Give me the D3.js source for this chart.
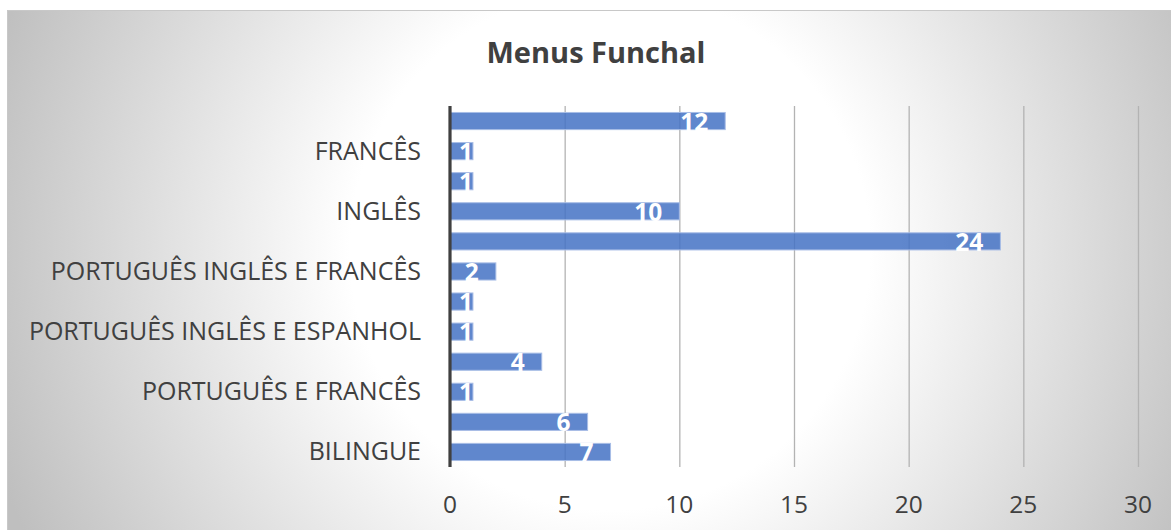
<!DOCTYPE html>
<html>
<head>
<meta charset="utf-8">
<script src="https://cdn.jsdelivr.net/npm/d3@7"></script>
<style>
  html, body { margin: 0; padding: 0; background: #ffffff; }
  svg { display: block; }
  text { font-family: "Open Sans", "Noto Sans", sans-serif; }
</style>
</head>
<body>
<svg id="chart" width="1171" height="530"></svg>
<script>
// Categories listed bottom-to-top (Excel order); only every other label is shown
const categories = [
  "BILINGUE",
  "PORTUGUÊS E INGLÊS",
  "PORTUGUÊS E FRANCÊS",
  "PORTUGUÊS E ESPANHOL",
  "PORTUGUÊS INGLÊS E ESPANHOL",
  "PORTUGUÊS INGLÊS E ALEMÃO",
  "PORTUGUÊS INGLÊS E FRANCÊS",
  "PORTUGUÊS",
  "INGLÊS",
  "ESPANHOL",
  "FRANCÊS",
  "MULTILINGUE"
];
const values = [7, 6, 1, 4, 1, 1, 2, 24, 10, 1, 1, 12];
const xTicks = [0, 5, 10, 15, 20, 25, 30];
const title = "Menus Funchal";

const W = 1171, H = 530;
const svg = d3.select("#chart");

// background radial gradient
const defs = svg.append("defs");
const grad = defs.append("radialGradient")
  .attr("id", "bg").attr("gradientUnits", "userSpaceOnUse")
  .attr("cx", 610).attr("cy", 250).attr("r", 650);
grad.append("stop").attr("offset", "0").attr("stop-color", "#ffffff");
grad.append("stop").attr("offset", "0.40").attr("stop-color", "#ffffff");
grad.append("stop").attr("offset", "1").attr("stop-color", "#bfbfbf");

svg.append("rect").attr("x", 7).attr("y", 10).attr("width", W - 7).attr("height", H - 10)
  .attr("fill", "url(#bg)");
svg.append("path").attr("d", `M7.5,${H} V10.5 H${W}`)
  .attr("fill", "none").attr("stroke", "#c8c8c8").attr("stroke-width", 1);

const x = d3.scaleLinear().domain([0, 30]).range([450, 1138]);
const order = d3.range(categories.length).reverse(); // top-to-bottom indices
const y = d3.scaleBand().domain(order).range([106, 467]).paddingInner(0.43).paddingOuter(0.215);

// gridlines
svg.append("g").selectAll("line").data(xTicks.filter(t => t > 0)).join("line")
  .attr("x1", d => x(d) + 0.5).attr("x2", d => x(d) + 0.5)
  .attr("y1", 106).attr("y2", 467)
  .attr("stroke", "#b3b3b3").attr("stroke-width", 1.3);

// bars
svg.append("g").selectAll("rect").data(order).join("rect")
  .attr("x", x(0)).attr("y", i => y(i))
  .attr("width", i => x(values[i]) - x(0))
  .attr("height", y.bandwidth())
  .attr("fill", "#4472c4").attr("fill-opacity", 0.85)
  .attr("stroke", "#a8bde6").attr("stroke-width", 1);

// vertical axis line
svg.append("line").attr("x1", 450).attr("x2", 450).attr("y1", 106).attr("y2", 467)
  .attr("stroke", "#404040").attr("stroke-width", 3.2);

// data labels
svg.append("g").selectAll("text").data(order).join("text")
  .attr("x", i => {
    const w = x(values[i]) - x(0);
    return w - 17 < 14 ? x(values[i]) : x(values[i]) - 17;
  })
  .attr("y", i => y(i) + y.bandwidth() / 2 + 9.5)
  .attr("text-anchor", "end")
  .attr("fill", "#ffffff").attr("font-weight", "bold").attr("font-size", 24.5)
  .text(i => values[i]);

// category labels (every other)
svg.append("g").selectAll("text").data(order.filter(i => i % 2 === 0)).join("text")
  .attr("x", 421).attr("y", i => y(i) + y.bandwidth() / 2 + 8.5)
  .attr("text-anchor", "end").attr("fill", "#404040").attr("font-size", 25)
  .text(i => categories[i]);

// x tick labels
svg.append("g").selectAll("text").data(xTicks).join("text")
  .attr("x", d => x(d)).attr("y", 513)
  .attr("text-anchor", "middle").attr("fill", "#404040").attr("font-size", 24.5)
  .text(d => d);

// title
svg.append("text").attr("x", 596).attr("y", 63)
  .attr("text-anchor", "middle").attr("fill", "#404040")
  .attr("font-weight", "bold").attr("font-size", 29)
  .text(title);
</script>
</body>
</html>
